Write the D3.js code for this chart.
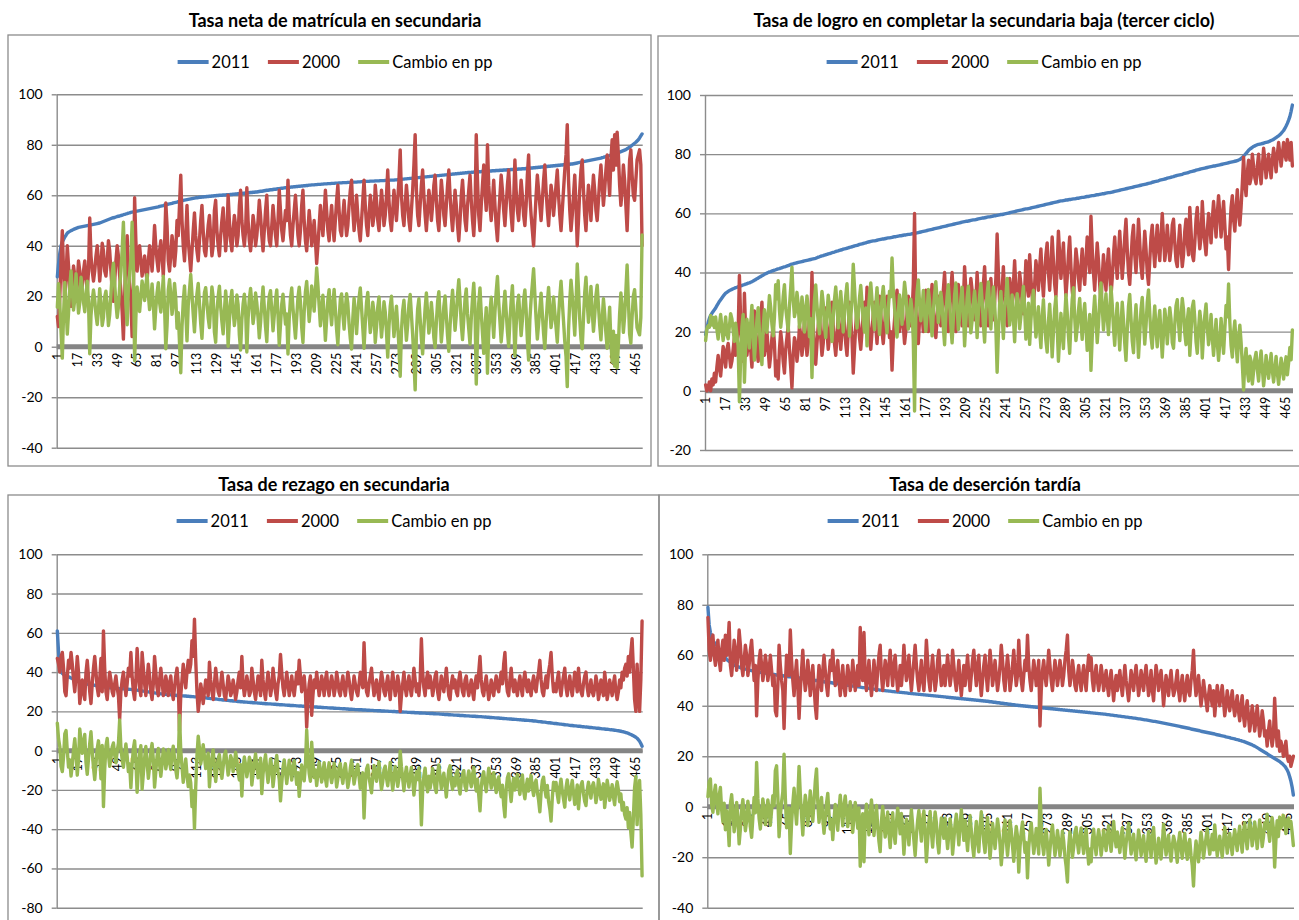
<!DOCTYPE html>
<html>
<head>
<meta charset="utf-8">
<script src="https://cdn.jsdelivr.net/npm/d3@7"></script>
<style>
  body { margin: 0; background: #fff; }
  svg { display: block; }
  text { font-family: Lato, "Liberation Sans", sans-serif; }
</style>
</head>
<body>
<svg id="chart" width="1299" height="920"></svg>
<script>
// Municipios ordenados por la tasa de 2011 (eje de categorías 1..470)
const municipios = d3.range(1, 471);
const etiquetasX = municipios.filter(d => (d - 1) % 16 === 0);
const seriesNombres = ["2011", "2000", "Cambio en pp"];

// Tasa neta de matrícula en secundaria
const neta2011 = [
27.7,33,37,40,41.5,42.5,43.5,44.2,45,45.4,
45.7,46,46.2,46.5,46.7,46.9,47.1,47.3,47.4,47.5,
47.6,47.7,47.8,47.9,48,48.1,48.2,48.3,48.4,48.5,
48.6,48.7,48.8,48.9,49,49.2,49.4,49.6,49.8,50,
50.2,50.4,50.6,50.8,51,51.1,51.2,51.4,51.6,51.7,
51.8,52,52.1,52.3,52.4,52.6,52.7,52.9,53,53.2,
53.3,53.4,53.5,53.6,53.7,53.8,53.9,54,54.1,54.2,
54.3,54.4,54.5,54.6,54.7,54.8,54.9,55,55.1,55.2,
55.3,55.4,55.6,55.7,55.8,55.9,56.1,56.2,56.3,56.5,
56.6,56.7,56.8,57,57.1,57.2,57.3,57.5,57.6,57.7,
57.8,58,58.1,58.2,58.3,58.4,58.5,58.6,58.7,58.8,
58.9,59,59,59.1,59.2,59.2,59.3,59.3,59.4,59.4,
59.5,59.5,59.6,59.6,59.7,59.7,59.8,59.8,59.9,59.9,
60,60,60,60.1,60.1,60.1,60.2,60.2,60.2,60.3,
60.3,60.4,60.4,60.5,60.5,60.6,60.6,60.7,60.7,60.8,
60.8,60.9,60.9,61,61,61.1,61.1,61.2,61.2,61.3,
61.3,61.4,61.5,61.6,61.6,61.7,61.8,61.9,62,62,
62.1,62.2,62.2,62.3,62.4,62.4,62.5,62.6,62.6,62.7,
62.8,62.8,62.9,63,63,63.1,63.2,63.2,63.3,63.3,
63.4,63.4,63.5,63.5,63.6,63.6,63.7,63.7,63.8,63.8,
63.9,63.9,64,64,64.1,64.1,64.1,64.2,64.2,64.3,
64.3,64.3,64.4,64.4,64.5,64.5,64.5,64.6,64.6,64.6,
64.7,64.7,64.7,64.8,64.8,64.8,64.9,64.9,64.9,65,
65,65,65,65.1,65.1,65.1,65.1,65.2,65.2,65.2,
65.2,65.3,65.3,65.3,65.4,65.4,65.4,65.5,65.5,65.5,
65.5,65.6,65.6,65.6,65.6,65.7,65.7,65.7,65.7,65.8,
65.8,65.8,65.8,65.9,65.9,65.9,65.9,66,66,66,
66,66.1,66.1,66.2,66.2,66.3,66.3,66.4,66.4,66.5,
66.5,66.6,66.6,66.7,66.7,66.8,66.8,66.9,66.9,67,
67,67.1,67.1,67.2,67.2,67.3,67.3,67.4,67.4,67.5,
67.5,67.6,67.6,67.7,67.7,67.8,67.8,67.9,67.9,68,
68,68.1,68.1,68.2,68.2,68.3,68.3,68.4,68.4,68.5,
68.5,68.6,68.6,68.7,68.7,68.8,68.8,68.9,68.9,69,
69,69,69.1,69.1,69.2,69.2,69.2,69.3,69.3,69.3,
69.4,69.4,69.4,69.5,69.5,69.5,69.6,69.6,69.6,69.7,
69.7,69.7,69.8,69.8,69.8,69.9,69.9,69.9,70,70,
70,70.1,70.1,70.1,70.2,70.2,70.2,70.3,70.3,70.3,
70.4,70.4,70.4,70.5,70.5,70.5,70.6,70.6,70.7,70.7,
70.8,70.8,70.9,70.9,71,71,71.1,71.1,71.2,71.2,
71.3,71.3,71.4,71.4,71.5,71.5,71.6,71.6,71.7,71.7,
71.8,71.8,71.9,71.9,72,72,72.1,72.1,72.2,72.2,
72.3,72.3,72.4,72.4,72.5,72.6,72.7,72.8,72.9,73,
73.1,73.2,73.3,73.4,73.5,73.6,73.7,73.8,73.9,74,
74.1,74.2,74.3,74.4,74.5,74.6,74.7,74.9,75,75.2,
75.3,75.4,75.6,75.7,75.9,76,76.2,76.3,76.5,76.7,
76.9,77.1,77.3,77.5,77.7,77.9,78.1,78.4,78.7,79,
79.4,79.8,80.2,80.6,81,81.5,82,82.7,83.5,84.3];
const neta2000 = [
12,8,20,34,46,30,18,28,40,32,
22,16,24,32,28,18,26,34,30,20,
24,30,34,28,22,30,51,36,30,26,
30,36,40,34,26,32,41,38,30,28,
34,42,38,30,22,18,26,34,40,36,
28,22,14,3,20,36,44,30,24,18,
4,22,59,42,30,36,40,34,28,32,
36,30,26,34,40,36,30,38,48,40,
34,30,38,42,36,28,40,57,48,34,
30,36,44,40,32,38,50,44,56,68,
50,40,34,44,56,42,36,30,38,46,
53,44,38,34,42,50,56,46,38,36,
42,48,52,44,36,40,54,58,46,40,
36,44,50,55,46,38,44,60,50,42,
38,46,52,48,40,44,56,62,50,44,
40,46,63,50,42,38,44,52,48,40,
44,50,58,52,44,38,46,54,60,48,
42,40,48,56,50,44,40,50,62,54,
46,42,48,54,50,66,52,44,40,48,
54,60,52,44,40,46,56,62,50,42,
38,46,54,48,40,44,50,42,33,40,
48,56,50,44,52,62,54,46,42,50,
56,48,42,50,58,64,54,46,44,52,
58,50,44,48,56,62,66,54,46,52,
60,52,46,42,50,58,66,56,48,44,
52,60,56,48,52,64,58,50,46,54,
62,56,48,52,60,70,58,50,46,54,
62,56,50,58,66,78,60,52,48,56,
64,58,50,46,54,62,72,84,62,52,
48,56,64,70,60,52,46,54,62,58,
50,56,64,68,58,50,46,56,66,60,
52,48,56,64,70,60,52,46,54,62,
56,48,42,50,60,66,58,50,46,56,
62,68,58,50,44,54,84,66,52,46,
56,64,72,62,54,80,64,56,50,58,
66,56,48,42,52,60,68,62,54,48,
56,64,70,60,52,46,58,74,62,54,
50,58,66,60,52,48,56,68,76,60,
52,46,40,50,60,68,62,56,50,58,
66,72,62,54,48,56,64,60,52,58,
64,70,60,52,46,54,62,70,76,88,
66,54,46,52,60,68,56,40,50,62,
70,74,62,52,46,56,64,58,50,60,
68,62,54,50,58,66,72,64,56,62,
70,76,68,60,74,82,70,84,72,85,
76,64,56,62,72,66,56,46,60,74,
78,68,60,58,66,74,76,78,72,40];

// Tasa de logro en completar la secundaria baja (tercer ciclo)
const logro2011 = [
19,21,23,24.5,25.5,26.2,26.8,27.4,28,28.8,
29.5,30.2,30.8,31.4,32,32.5,33,33.3,33.6,33.9,
34.1,34.3,34.5,34.7,34.9,35,35.2,35.3,35.5,35.6,
35.8,35.9,36.1,36.2,36.4,36.5,36.7,36.9,37.1,37.4,
37.6,37.9,38.1,38.4,38.6,38.9,39.1,39.4,39.6,39.8,
40,40.2,40.3,40.5,40.6,40.8,40.9,41.1,41.2,41.3,
41.5,41.6,41.8,41.9,42,42.2,42.3,42.5,42.7,42.8,
42.9,43.1,43.2,43.3,43.4,43.5,43.6,43.7,43.8,43.9,
44,44.1,44.2,44.3,44.4,44.5,44.6,44.7,44.8,45,
45.2,45.3,45.5,45.6,45.7,45.9,46,46.1,46.3,46.4,
46.5,46.7,46.8,46.9,47.1,47.2,47.3,47.5,47.6,47.7,
47.9,48,48.1,48.2,48.3,48.5,48.6,48.7,48.8,49,
49.1,49.2,49.3,49.5,49.6,49.7,49.8,49.9,50,50.2,
50.3,50.4,50.5,50.6,50.7,50.7,50.8,50.9,51,51.1,
51.2,51.3,51.3,51.4,51.5,51.6,51.7,51.7,51.8,51.9,
52,52.1,52.1,52.2,52.3,52.4,52.4,52.5,52.6,52.7,
52.7,52.8,52.9,52.9,53,53.1,53.1,53.2,53.3,53.4,
53.5,53.6,53.7,53.8,53.9,54,54.1,54.2,54.3,54.4,
54.5,54.6,54.7,54.8,54.9,55,55.1,55.2,55.3,55.4,
55.5,55.6,55.7,55.8,55.9,56,56.1,56.2,56.3,56.4,
56.5,56.6,56.7,56.8,56.9,57,57.1,57.2,57.3,57.3,
57.4,57.5,57.6,57.7,57.8,57.8,57.9,58,58.1,58.2,
58.3,58.4,58.4,58.5,58.6,58.7,58.8,58.8,58.9,59,
59.1,59.2,59.2,59.3,59.4,59.5,59.6,59.6,59.7,59.8,
59.9,60,60.1,60.2,60.3,60.4,60.5,60.6,60.7,60.8,
60.9,61,61.1,61.2,61.3,61.4,61.5,61.5,61.6,61.7,
61.8,61.9,62,62.1,62.2,62.3,62.4,62.5,62.6,62.7,
62.8,62.9,63,63.1,63.2,63.3,63.4,63.5,63.6,63.7,
63.8,63.9,64,64.1,64.2,64.2,64.3,64.4,64.5,64.5,
64.6,64.7,64.7,64.8,64.9,64.9,65,65.1,65.1,65.2,
65.3,65.4,65.4,65.5,65.6,65.7,65.7,65.8,65.9,66,
66,66.1,66.2,66.3,66.3,66.4,66.5,66.6,66.6,66.7,
66.8,66.9,67,67,67.1,67.2,67.3,67.4,67.5,67.6,
67.7,67.8,67.9,68,68.1,68.2,68.3,68.4,68.5,68.6,
68.7,68.8,68.9,69,69.1,69.2,69.3,69.4,69.5,69.6,
69.7,69.8,69.9,70,70.1,70.2,70.3,70.5,70.6,70.7,
70.8,70.9,71,71.2,71.3,71.4,71.5,71.6,71.7,71.9,
72,72.1,72.2,72.3,72.4,72.6,72.7,72.8,72.9,73,
73.1,73.2,73.4,73.5,73.6,73.7,73.8,74,74.1,74.2,
74.3,74.4,74.6,74.7,74.8,74.9,75,75.1,75.2,75.3,
75.4,75.5,75.6,75.7,75.8,75.9,76,76,76.1,76.2,
76.3,76.4,76.5,76.6,76.7,76.8,76.9,77,77.1,77.2,
77.3,77.4,77.5,77.6,77.7,77.8,78,78.2,78.5,78.9,
79.3,79.8,80.3,80.8,81.3,81.7,82,82.3,82.6,82.8,
83,83.2,83.3,83.4,83.5,83.6,83.7,83.9,84,84.1,
84.2,84.4,84.6,84.8,85,85.3,85.6,85.9,86.2,86.6,
87,87.5,88,88.7,89.5,90.4,91.5,92.7,94.5,96.6];
const logro2000 = [
2,0,1,3,0,4,2,6,3,8,
12,8,5,10,15,12,8,14,16,12,
8,10,14,18,12,16,20,39,24,14,
10,33,20,12,16,22,14,8,18,27,
20,14,10,18,24,30,18,12,16,20,
14,8,12,18,22,16,5,10,4,14,
20,16,10,6,14,18,22,14,8,1,
12,18,16,10,14,22,19,12,16,24,
18,12,16,26,20,40,22,14,9,16,
22,26,18,12,16,24,28,20,14,18,
24,30,22,16,12,18,26,20,14,20,
28,22,16,12,20,30,24,18,6,14,
22,28,24,18,14,20,26,30,22,35,
24,18,14,20,26,30,22,16,24,32,
26,20,16,22,28,32,24,18,20,7,
18,24,30,34,26,20,24,30,22,16,
20,26,32,28,22,26,36,60,28,20,
16,24,30,26,20,28,34,28,20,24,
30,36,28,22,18,24,32,28,22,26,
34,40,30,24,20,26,34,40,32,24,
20,28,36,32,26,22,30,42,34,26,
22,30,38,34,28,24,30,40,32,26,
22,28,36,42,32,26,22,30,38,30,
24,30,38,53,40,30,26,34,42,32,
28,22,30,38,34,28,36,44,34,28,
32,40,36,30,26,34,44,38,32,46,
38,32,28,36,44,40,34,42,48,38,
32,40,46,50,40,34,42,52,44,36,
32,42,54,46,38,44,50,40,32,38,
46,52,42,34,30,40,48,44,38,34,
42,48,40,36,44,52,46,40,59,48,
40,34,42,50,44,36,30,38,46,40,
34,42,48,40,32,38,46,52,44,38,
46,54,46,38,44,52,58,48,40,36,
44,52,56,46,40,48,58,50,42,38,
46,54,48,40,36,44,52,56,48,42,
50,56,48,44,52,60,52,44,48,56,
50,44,48,56,58,50,44,42,50,56,
48,42,46,54,58,50,46,62,54,46,
44,50,58,62,54,48,52,64,56,50,
46,54,60,56,50,58,64,58,52,60,
66,60,52,58,64,56,48,52,41,54,
62,66,58,54,62,68,60,56,62,70,
79,70,66,74,78,70,72,80,76,72,
70,76,80,74,70,76,82,78,72,76,
80,76,72,78,82,78,74,80,84,80,
76,80,84,80,78,85,82,78,84,76];

// Tasa de rezago en secundaria
const rezago2011 = [
61,50,42,40,39.3,38.8,38.5,38.2,37.9,37.6,
37.3,37,36.7,36.4,36.1,35.8,35.5,35.2,35,34.8,
34.6,34.4,34.2,34,33.9,33.8,33.7,33.6,33.5,33.4,
33.3,33.2,33.1,33,32.8,32.7,32.6,32.5,32.4,32.3,
32.2,32.1,32,32,31.9,31.9,31.8,31.8,31.7,31.7,
31.6,31.6,31.5,31.5,31.4,31.4,31.3,31.3,31.2,31.2,
31.1,31.1,31,30.9,30.8,30.7,30.6,30.5,30.4,30.3,
30.2,30.1,30,29.9,29.8,29.7,29.6,29.5,29.4,29.3,
29.2,29.1,29,28.9,28.9,28.8,28.8,28.7,28.6,28.6,
28.5,28.4,28.4,28.3,28.3,28.2,28.1,28.1,28,28,
27.9,27.9,27.8,27.8,27.7,27.7,27.6,27.6,27.5,27.5,
27.4,27.4,27.3,27.3,27.2,27.2,27.1,27,27,26.9,
26.8,26.7,26.6,26.5,26.5,26.4,26.3,26.3,26.2,26.1,
26,26,25.9,25.8,25.8,25.7,25.6,25.6,25.5,25.4,
25.4,25.3,25.2,25.2,25.1,25,25,24.9,24.9,24.8,
24.8,24.7,24.7,24.6,24.6,24.5,24.5,24.4,24.4,24.3,
24.3,24.2,24.2,24.1,24.1,24,24,23.9,23.9,23.8,
23.8,23.8,23.7,23.7,23.6,23.6,23.5,23.5,23.4,23.4,
23.4,23.3,23.3,23.2,23.2,23.1,23.1,23,23,23,
22.9,22.9,22.8,22.8,22.7,22.7,22.7,22.6,22.6,22.5,
22.5,22.5,22.4,22.4,22.3,22.3,22.3,22.2,22.2,22.1,
22.1,22.1,22,22,21.9,21.9,21.9,21.8,21.8,21.7,
21.7,21.7,21.6,21.6,21.5,21.5,21.5,21.4,21.4,21.3,
21.3,21.3,21.2,21.2,21.1,21.1,21.1,21,21,20.9,
20.9,20.9,20.8,20.8,20.8,20.7,20.7,20.7,20.6,20.6,
20.6,20.5,20.5,20.5,20.4,20.4,20.4,20.3,20.3,20.3,
20.2,20.2,20.2,20.1,20.1,20.1,20,20,20,19.9,
19.9,19.9,19.8,19.8,19.8,19.7,19.7,19.7,19.6,19.6,
19.6,19.5,19.5,19.5,19.4,19.4,19.4,19.3,19.3,19.3,
19.2,19.2,19.2,19.1,19.1,19.1,19,19,19,18.9,
18.9,18.9,18.8,18.8,18.7,18.7,18.7,18.6,18.6,18.5,
18.5,18.4,18.4,18.4,18.3,18.3,18.2,18.2,18.1,18.1,
18.1,18,18,17.9,17.9,17.9,17.8,17.8,17.7,17.7,
17.7,17.6,17.6,17.5,17.5,17.5,17.4,17.4,17.3,17.3,
17.3,17.2,17.2,17.1,17.1,17,17,16.9,16.9,16.8,
16.8,16.7,16.7,16.6,16.6,16.5,16.5,16.4,16.4,16.3,
16.3,16.2,16.2,16.1,16.1,16,16,15.9,15.9,15.8,
15.8,15.7,15.7,15.6,15.6,15.5,15.5,15.4,15.4,15.3,
15.3,15.2,15.1,15.1,15,14.9,14.8,14.8,14.7,14.6,
14.5,14.5,14.4,14.3,14.2,14.2,14.1,14,13.9,13.8,
13.8,13.7,13.6,13.5,13.5,13.4,13.3,13.2,13.1,13.1,
13,12.9,12.8,12.8,12.7,12.6,12.6,12.5,12.4,12.4,
12.3,12.2,12.2,12.1,12,12,11.9,11.8,11.8,11.7,
11.6,11.6,11.5,11.4,11.4,11.3,11.2,11.1,11.1,11,
10.9,10.9,10.8,10.7,10.6,10.6,10.5,10.4,10.3,10.2,
10.1,10,9.9,9.7,9.6,9.4,9.2,9,8.8,8.5,
8.2,7.9,7.6,7.2,6.8,6.3,5.6,4.8,3.6,2.2];
const rezago2000 = [
47,44,40,48,50,42,30,28,38,46,
42,50,44,36,30,38,48,40,24,30,
36,30,26,40,46,38,30,24,34,42,
48,40,32,28,36,47,30,61,42,30,
26,34,40,36,30,28,34,38,32,28,
16,30,36,40,34,28,34,42,38,50,
38,30,26,36,52,40,32,28,50,42,
34,28,36,44,38,30,26,34,48,40,
32,28,36,42,36,28,30,38,34,28,
34,38,30,26,32,38,42,34,10,28,
36,44,38,32,40,46,40,44,56,48,
67,46,30,20,26,34,30,24,30,36,
32,28,45,36,30,26,34,42,36,30,
28,34,40,34,28,26,32,38,34,28,
30,36,32,26,30,36,40,32,48,34,
28,32,38,34,28,30,42,36,30,26,
32,38,34,28,46,36,30,26,34,40,
34,28,32,42,36,30,26,34,38,49,
40,32,28,34,40,34,28,32,38,32,
28,34,40,34,46,38,30,34,38,30,
12,26,34,38,18,28,36,32,40,34,
28,32,38,34,28,36,40,32,28,34,
38,34,28,32,40,36,30,28,34,38,
32,28,34,40,36,30,26,32,38,34,
30,28,34,40,36,32,55,38,30,28,
34,38,42,34,28,32,36,30,26,34,
40,36,30,28,34,38,32,26,34,40,
34,28,32,38,34,20,28,34,40,32,
28,34,38,32,28,34,42,36,30,34,
28,36,57,40,32,28,36,40,32,38,
34,28,32,38,40,30,26,32,38,34,
30,36,42,34,28,26,34,38,32,36,
30,28,36,40,34,30,28,36,38,32,
28,32,36,30,26,34,38,32,40,48,
36,30,28,34,38,32,26,30,36,32,
28,34,38,32,30,36,40,34,44,50,
36,30,28,36,42,34,30,36,32,28,
34,38,32,28,36,40,34,30,36,32,
28,34,38,32,30,36,40,46,36,30,
28,34,38,32,40,44,50,38,30,34,
30,36,40,32,28,34,38,42,32,28,
34,38,32,28,34,40,36,30,42,34,
30,28,34,38,40,32,28,32,36,30,
28,32,38,34,26,30,36,32,28,40,
34,26,30,36,32,28,34,38,30,26,
30,36,32,40,36,42,44,38,48,40,
50,57,42,26,20,44,30,20,36,66];

// Tasa de deserción tardía
const desercion2011 = [
79,72,69,66.7,65.8,65.1,64.5,64,63.2,62.4,
61.6,60.8,60,59.4,58.9,58.4,58,57.6,57.2,56.8,
56.5,56.1,55.9,55.7,55.5,55.3,55.1,54.9,54.8,54.6,
54.5,54.4,54.2,54.1,54,53.9,53.8,53.7,53.6,53.5,
53.4,53.3,53.2,53.1,53.1,53,52.9,52.8,52.7,52.7,
52.6,52.5,52.4,52.4,52.3,52.2,52.1,52.1,52,51.9,
51.9,51.8,51.7,51.7,51.6,51.5,51.5,51.4,51.3,51.3,
51.2,51.1,51.1,51,50.9,50.8,50.8,50.7,50.6,50.6,
50.5,50.4,50.3,50.3,50.2,50.1,50,50,49.9,49.8,
49.7,49.7,49.6,49.5,49.4,49.4,49.3,49.2,49.2,49.1,
49,48.9,48.9,48.8,48.7,48.7,48.6,48.5,48.4,48.4,
48.3,48.2,48.1,48.1,48,47.9,47.8,47.8,47.7,47.6,
47.5,47.5,47.4,47.3,47.2,47.2,47.1,47,47,46.9,
46.8,46.7,46.7,46.6,46.5,46.5,46.4,46.3,46.2,46.2,
46.1,46,46,45.9,45.9,45.8,45.8,45.7,45.6,45.6,
45.5,45.5,45.4,45.4,45.3,45.3,45.2,45.2,45.1,45.1,
45,44.9,44.9,44.8,44.8,44.7,44.7,44.6,44.6,44.5,
44.5,44.4,44.4,44.3,44.3,44.2,44.2,44.1,44.1,44,
44,43.9,43.9,43.8,43.8,43.7,43.7,43.6,43.6,43.5,
43.5,43.4,43.4,43.3,43.3,43.2,43.2,43.1,43.1,43,
43,42.9,42.9,42.8,42.8,42.7,42.7,42.6,42.6,42.5,
42.5,42.4,42.4,42.3,42.3,42.2,42.2,42.1,42.1,42,
42,41.9,41.9,41.8,41.8,41.7,41.6,41.6,41.5,41.4,
41.4,41.3,41.2,41.2,41.1,41,41,40.9,40.8,40.8,
40.7,40.6,40.6,40.5,40.4,40.4,40.3,40.2,40.2,40.1,
40.1,40,40,39.9,39.9,39.8,39.8,39.7,39.7,39.6,
39.6,39.5,39.5,39.4,39.4,39.3,39.3,39.2,39.2,39.1,
39.1,39,39,38.9,38.9,38.8,38.8,38.7,38.7,38.6,
38.6,38.5,38.5,38.4,38.4,38.3,38.3,38.2,38.2,38.1,
38.1,38,38,37.9,37.9,37.8,37.8,37.7,37.7,37.6,
37.6,37.5,37.5,37.4,37.4,37.3,37.3,37.2,37.2,37.1,
37.1,37,37,36.9,36.9,36.8,36.8,36.7,36.7,36.6,
36.5,36.5,36.4,36.3,36.3,36.2,36.1,36.1,36,35.9,
35.9,35.8,35.7,35.7,35.6,35.5,35.5,35.4,35.3,35.3,
35.2,35.1,35.1,35,34.9,34.8,34.8,34.7,34.6,34.5,
34.4,34.4,34.3,34.2,34.1,34,33.9,33.8,33.8,33.7,
33.6,33.5,33.4,33.3,33.2,33.1,33,32.9,32.8,32.7,
32.6,32.5,32.4,32.3,32.2,32.1,32,31.9,31.8,31.7,
31.6,31.5,31.4,31.3,31.2,31.1,31,30.8,30.7,30.6,
30.5,30.4,30.3,30.2,30.1,29.9,29.8,29.7,29.6,29.5,
29.4,29.3,29.2,29.1,29,28.9,28.8,28.6,28.5,28.4,
28.3,28.2,28.1,28,27.9,27.7,27.6,27.5,27.4,27.2,
27.1,27,26.9,26.7,26.6,26.5,26.3,26.2,26,25.9,
25.7,25.5,25.3,25.1,24.9,24.7,24.5,24.2,24,23.7,
23.4,23.1,22.8,22.5,22.2,21.9,21.6,21.3,21,20.6,
20.3,20,19.7,19.4,19.1,18.8,18.5,18.2,17.9,17.5,
17.1,16.6,16.1,15.4,14.6,13.5,12,10.2,7.8,4.6];
const desercion2000 = [
75,62,58,66,68,60,56,62,66,58,
54,62,66,58,68,60,64,73,56,52,
58,66,62,54,60,70,64,56,52,58,
64,60,52,56,62,66,58,50,56,36,
50,58,62,56,50,54,60,56,50,54,
60,54,48,52,38,36,48,64,56,50,
46,31,48,60,56,52,70,58,50,44,
52,58,48,35,46,54,62,52,46,50,
58,52,44,50,56,48,40,35,48,56,
50,46,54,60,54,48,44,52,58,54,
62,54,48,52,58,50,44,50,56,48,
44,50,56,52,46,50,58,52,46,50,
56,48,71,56,50,69,52,46,52,58,
50,44,50,58,52,46,54,60,64,52,
46,52,58,54,48,56,62,54,48,56,
60,52,46,50,56,48,54,64,56,50,
54,60,52,46,52,58,64,56,50,46,
52,58,50,46,54,66,58,50,46,54,
60,52,46,50,58,62,54,48,52,56,
48,54,60,54,48,52,62,56,50,46,
52,58,50,44,50,56,48,54,60,52,
46,52,58,62,54,48,56,60,50,44,
50,56,60,52,46,54,62,56,48,52,
58,52,46,50,56,64,58,50,46,54,
60,54,46,50,56,62,54,48,52,66,
56,50,46,52,58,54,68,56,50,46,
52,58,54,48,52,58,32,46,54,58,
52,48,54,62,56,50,46,52,58,54,
48,52,58,54,48,52,58,62,68,54,
48,52,58,54,48,46,52,56,50,46,
52,56,50,46,54,60,54,59,50,46,
52,56,50,46,50,56,52,46,50,54,
48,44,50,54,48,42,48,52,46,50,
54,48,44,50,56,50,46,42,48,54,
50,46,52,56,50,44,48,54,50,46,
52,56,50,44,48,54,46,42,50,56,
52,46,50,54,48,40,46,52,48,44,
50,54,48,44,46,50,54,46,42,48,
52,46,42,48,52,46,44,50,54,62,
50,44,48,52,46,40,44,50,46,42,
38,44,48,44,40,46,36,42,48,44,
40,44,48,42,36,40,46,42,38,42,
46,40,36,40,44,38,34,40,44,36,
32,38,42,36,30,34,40,36,30,34,
40,34,28,32,38,34,28,30,24,30,
34,28,24,28,43,32,24,30,22,26,
24,20,22,26,20,18,20,16,18,20];

// Marcas de los ejes verticales
const ticksNeta = [-40, -20, 0, 20, 40, 60, 80, 100];
const ticksLogro = [-20, 0, 20, 40, 60, 80, 100];
const ticksRezago = [-80, -60, -40, -20, 0, 20, 40, 60, 80, 100];
const ticksDesercion = [-40, -20, 0, 20, 40, 60, 80, 100];

// Cambio en puntos porcentuales = 2011 - 2000
const cambio = (a, b) => a.map((v, i) => +(v - b[i]).toFixed(1));

const colores = ["#4A7EBB", "#BE4B48", "#98B954"];
const gris = "#8C8C8C";

const paneles = [
  { titulo: "Tasa neta de matrícula en secundaria",
    serie2011: neta2011, serie2000: neta2000, ticks: ticksNeta,
    marco: [8, 35, 651, 466], tituloY: 27, centro: 335, leyendaY: 62,
    left: 56.7, right: 642.7, top: 94.3, bottom: 447.7 },
  { titulo: "Tasa de logro en completar la secundaria baja (tercer ciclo)",
    serie2011: logro2011, serie2000: logro2000, ticks: ticksLogro,
    marco: [658, 36, 1320, 466], tituloY: 27, centro: 984, leyendaY: 62,
    left: 705, right: 1293, top: 95, bottom: 450 },
  { titulo: "Tasa de rezago en secundaria",
    serie2011: rezago2011, serie2000: rezago2000, ticks: ticksRezago,
    marco: [8, 495, 659, 940], tituloY: 491, centro: 334, leyendaY: 521,
    left: 56.7, right: 642.7, top: 554.3, bottom: 907.7 },
  { titulo: "Tasa de deserción tardía",
    serie2011: desercion2011, serie2000: desercion2000, ticks: ticksDesercion,
    marco: [659, 495, 1320, 940], tituloY: 491, centro: 985, leyendaY: 521,
    left: 707.3, right: 1294, top: 554.3, bottom: 907.7 }
];

const svg = d3.select("#chart");

function dibujarPanel(p) {
  const g = svg.append("g");
  const [fx0, fy0, fx1, fy1] = p.marco;

  // marco del gráfico
  g.append("rect")
    .attr("x", fx0).attr("y", fy0)
    .attr("width", fx1 - fx0).attr("height", fy1 - fy0)
    .attr("fill", "none").attr("stroke", gris).attr("stroke-width", 1.3);

  // título
  g.append("text")
    .attr("x", p.centro).attr("y", p.tituloY)
    .attr("text-anchor", "middle")
    .attr("font-size", 18).attr("font-weight", "bold").attr("fill", "#000")
    .text(p.titulo);

  const x = d3.scaleBand().domain(municipios).range([p.left, p.right]);
  const y = d3.scaleLinear().domain(d3.extent(p.ticks)).range([p.bottom, p.top]);
  const ancho = p.right - p.left;

  // líneas de cuadrícula
  g.append("g")
    .attr("transform", `translate(${p.left},0)`)
    .call(d3.axisLeft(y).tickValues(p.ticks).tickSize(-ancho).tickFormat(""))
    .call(a => a.select(".domain").remove())
    .call(a => a.selectAll("line").attr("stroke", gris).attr("stroke-width", 1.4));

  // eje vertical con marcas y etiquetas
  g.append("g")
    .attr("transform", `translate(${p.left},0)`)
    .call(d3.axisLeft(y).tickValues(p.ticks).tickSize(5).tickSizeOuter(0)
      .tickPadding(9).tickFormat(d => String(d)))
    .call(a => a.select(".domain").attr("stroke", gris).attr("stroke-width", 1.4))
    .call(a => a.selectAll(".tick line").attr("stroke", gris).attr("stroke-width", 1.4))
    .call(a => a.selectAll("text")
      .attr("font-size", 14).attr("fill", "#000")
      .style("font-family", "Lato, 'Liberation Sans', sans-serif"));

  // eje horizontal en cero
  g.append("line")
    .attr("x1", p.left).attr("x2", p.right)
    .attr("y1", y(0)).attr("y2", y(0))
    .attr("stroke", "#858585").attr("stroke-width", 5);

  // etiquetas de categorías (giradas)
  g.append("g")
    .attr("transform", `translate(0,${y(0)})`)
    .call(d3.axisBottom(x).tickValues(etiquetasX).tickSize(0).tickSizeOuter(0))
    .call(a => a.select(".domain").remove())
    .call(a => a.selectAll("text")
      .attr("transform", "rotate(-90)")
      .attr("x", -6).attr("y", 0).attr("dy", "0.35em")
      .attr("text-anchor", "end")
      .attr("font-size", 12.5).attr("fill", "#000")
      .style("font-family", "Lato, 'Liberation Sans', sans-serif"));

  // series
  const valores = [p.serie2011, p.serie2000, cambio(p.serie2011, p.serie2000)];
  const linea = d3.line()
    .x((d, i) => x(municipios[i]) + x.bandwidth() / 2)
    .y(d => y(d));
  valores.forEach((serie, k) => {
    g.append("path")
      .datum(serie)
      .attr("d", linea)
      .attr("fill", "none")
      .attr("stroke", colores[k])
      .attr("stroke-width", 3.4)
      .attr("stroke-linejoin", "round")
      .attr("stroke-linecap", "round");
  });

  // leyenda
  const ley = g.append("g");
  let cx = 0;
  seriesNombres.forEach((nombre, k) => {
    const item = ley.append("g").attr("transform", `translate(${cx},0)`);
    item.append("line")
      .attr("x1", 0).attr("x2", 31).attr("y1", 0).attr("y2", 0)
      .attr("stroke", colores[k]).attr("stroke-width", 4);
    const t = item.append("text")
      .attr("x", 34).attr("y", 0).attr("dy", "0.35em")
      .attr("font-size", 16.5).attr("fill", "#000")
      .text(nombre);
    cx += 34 + t.node().getComputedTextLength() + 18;
  });
  const anchoLey = cx - 18;
  ley.attr("transform", `translate(${p.centro - anchoLey / 2},${p.leyendaY})`);
}

paneles.forEach(dibujarPanel);
</script>
</body>
</html>
